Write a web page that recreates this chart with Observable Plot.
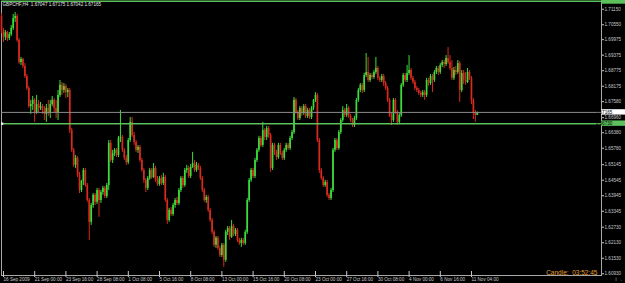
<!DOCTYPE html>
<html><head><meta charset="utf-8">
<script src="https://cdn.jsdelivr.net/npm/d3@7"></script>
<script src="https://cdn.jsdelivr.net/npm/@observablehq/plot@0.6"></script>
<style>html,body{margin:0;padding:0;background:#000;overflow:hidden}</style>
</head><body><div id="chart"></div>
<script>
const symbolTitle = "GBPCHF,H4  1.67047 1.67175 1.67042 1.67165";
const timerText = "Candle:  03:52:45";

const opens = [
1.7087,1.7033,1.7006,1.7025,1.7002,1.7017,1.7041,1.7079,1.7087,1.6994,
1.6909,1.6921,1.6894,1.6855,1.6809,1.6739,1.6747,1.6763,1.6716,1.6747,
1.6732,1.6739,1.6724,1.6709,1.6732,1.6712,1.6747,1.6763,1.6732,1.6716,
1.6782,1.6821,1.6801,1.6817,1.6793,1.6801,1.6647,1.6570,1.6512,1.6539,
1.6473,1.6415,1.6450,1.6492,1.6434,1.6376,1.6292,1.6357,1.6396,1.6369,
1.6415,1.6376,1.6407,1.6423,1.6392,1.6434,1.6597,1.6531,1.6558,1.6570,
1.6550,1.6616,1.6620,1.6570,1.6539,1.6523,1.6608,1.6678,1.6627,1.6600,
1.6570,1.6581,1.6531,1.6492,1.6454,1.6423,1.6461,1.6492,1.6465,1.6500,
1.6454,1.6438,1.6461,1.6442,1.6465,1.6376,1.6299,1.6338,1.6322,1.6357,
1.6376,1.6365,1.6415,1.6461,1.6434,1.6492,1.6500,1.6469,1.6504,1.6519,
1.6492,1.6512,1.6500,1.6461,1.6415,1.6376,1.6388,1.6338,1.6299,1.6253,
1.6203,1.6230,1.6191,1.6164,1.6203,1.6145,1.6253,1.6268,1.6234,1.6276,
1.6245,1.6261,1.6222,1.6210,1.6222,1.6210,1.6253,1.6376,1.6454,1.6492,
1.6469,1.6531,1.6570,1.6616,1.6589,1.6647,1.6620,1.6654,1.6627,1.6500,
1.6589,1.6562,1.6542,1.6589,1.6558,1.6539,1.6570,1.6589,1.6577,1.6616,
1.6639,1.6763,1.6716,1.6693,1.6732,1.6712,1.6739,1.6701,1.6724,1.6697,
1.6732,1.6763,1.6782,1.6608,1.6492,1.6461,1.6434,1.6446,1.6396,1.6384,
1.6415,1.6570,1.6608,1.6577,1.6639,1.6685,1.6724,1.6705,1.6732,1.6701,
1.6685,1.6666,1.6693,1.6763,1.6801,1.6821,1.6801,1.6859,1.6871,1.6840,
1.6859,1.6851,1.6871,1.6886,1.6848,1.6840,1.6855,1.6828,1.6809,1.6763,
1.6705,1.6685,1.6763,1.6716,1.6678,1.6705,1.6821,1.6859,1.6840,1.6867,
1.6878,1.6848,1.6832,1.6809,1.6801,1.6790,1.6782,1.6793,1.6782,1.6840,
1.6828,1.6855,1.6840,1.6871,1.6886,1.6871,1.6898,1.6909,1.6902,1.6925,
1.6909,1.6886,1.6848,1.6878,1.6871,1.6905,1.6801,1.6867,1.6840,1.6832,
1.6871,1.6848,1.6763,1.6716,1.67047
];
const highs = [
1.7099,1.7041,1.7033,1.7029,1.7025,1.7052,1.7095,1.7102,1.7095,1.7002,
1.6929,1.6925,1.6905,1.6863,1.6817,1.6763,1.6778,1.6770,1.6782,1.6763,
1.6755,1.6747,1.6739,1.6747,1.6763,1.6763,1.6778,1.6770,1.6763,1.6801,
1.6840,1.6832,1.6828,1.6824,1.6809,1.6809,1.6654,1.6577,1.6550,1.6546,
1.6485,1.6454,1.6500,1.6500,1.6442,1.6384,1.6365,1.6403,1.6403,1.6423,
1.6423,1.6415,1.6431,1.6431,1.6442,1.6608,1.6608,1.6570,1.6577,1.6577,
1.6624,1.6724,1.6627,1.6577,1.6550,1.6616,1.6697,1.6697,1.6639,1.6608,
1.6589,1.6589,1.6539,1.6500,1.6461,1.6469,1.6500,1.6500,1.6519,1.6508,
1.6469,1.6469,1.6473,1.6481,1.6473,1.6384,1.6346,1.6349,1.6365,1.6384,
1.6388,1.6423,1.6469,1.6469,1.6500,1.6512,1.6508,1.6515,1.6562,1.6531,
1.6523,1.6519,1.6508,1.6469,1.6423,1.6396,1.6396,1.6346,1.6307,1.6261,
1.6237,1.6237,1.6199,1.6210,1.6210,1.6261,1.6276,1.6276,1.6299,1.6284,
1.6268,1.6268,1.6230,1.6230,1.6230,1.6261,1.6384,1.6461,1.6500,1.6500,
1.6539,1.6577,1.6624,1.6624,1.6678,1.6654,1.6662,1.6662,1.6635,1.6597,
1.6597,1.6570,1.6597,1.6597,1.6566,1.6577,1.6597,1.6597,1.6624,1.6647,
1.6774,1.6770,1.6724,1.6739,1.6739,1.6747,1.6747,1.6732,1.6732,1.6739,
1.6766,1.6793,1.6790,1.6616,1.6500,1.6469,1.6454,1.6454,1.6403,1.6423,
1.6577,1.6616,1.6616,1.6647,1.6693,1.6739,1.6732,1.6747,1.6739,1.6709,
1.6693,1.6701,1.6770,1.6809,1.6828,1.6828,1.6867,1.6944,1.6929,1.6867,
1.6867,1.6878,1.6929,1.6894,1.6855,1.6863,1.6863,1.6836,1.6817,1.6770,
1.6712,1.6770,1.6770,1.6724,1.6712,1.6828,1.6867,1.6867,1.6898,1.6936,
1.6886,1.6855,1.6840,1.6817,1.6809,1.6797,1.6801,1.6801,1.6848,1.6848,
1.6863,1.6863,1.6878,1.6894,1.6894,1.6905,1.6917,1.6917,1.6936,1.6967,
1.6936,1.6917,1.6890,1.6894,1.6917,1.6913,1.6878,1.6878,1.6871,1.6886,
1.6878,1.6855,1.6770,1.6724,1.67175
];
const lows = [
1.7021,1.6987,1.6994,1.6990,1.6994,1.7010,1.7033,1.7064,1.6987,1.6902,
1.6898,1.6886,1.6848,1.6801,1.6732,1.6709,1.6724,1.6678,1.6709,1.6716,
1.6724,1.6709,1.6685,1.6678,1.6701,1.6693,1.6739,1.6716,1.6693,1.6685,
1.6774,1.6782,1.6790,1.6770,1.6774,1.6635,1.6562,1.6504,1.6500,1.6465,
1.6403,1.6407,1.6434,1.6427,1.6369,1.6222,1.6280,1.6346,1.6357,1.6361,
1.6311,1.6365,1.6396,1.6384,1.6384,1.6415,1.6523,1.6519,1.6546,1.6542,
1.6542,1.6600,1.6562,1.6531,1.6512,1.6515,1.6600,1.6620,1.6589,1.6562,
1.6558,1.6523,1.6485,1.6442,1.6407,1.6415,1.6454,1.6458,1.6461,1.6446,
1.6431,1.6431,1.6434,1.6434,1.6369,1.6284,1.6292,1.6315,1.6315,1.6346,
1.6357,1.6357,1.6407,1.6423,1.6427,1.6481,1.6461,1.6461,1.6500,1.6485,
1.6485,1.6492,1.6454,1.6407,1.6369,1.6365,1.6330,1.6292,1.6245,1.6195,
1.6191,1.6183,1.6156,1.6156,1.6118,1.6137,1.6241,1.6222,1.6230,1.6237,
1.6237,1.6214,1.6203,1.6195,1.6203,1.6203,1.6245,1.6369,1.6446,1.6461,
1.6461,1.6523,1.6562,1.6581,1.6581,1.6608,1.6608,1.6616,1.6485,1.6492,
1.6550,1.6531,1.6535,1.6550,1.6531,1.6531,1.6562,1.6570,1.6570,1.6608,
1.6631,1.6709,1.6685,1.6685,1.6701,1.6705,1.6693,1.6693,1.6689,1.6689,
1.6724,1.6755,1.6600,1.6481,1.6454,1.6427,1.6427,1.6388,1.6376,1.6376,
1.6407,1.6562,1.6570,1.6570,1.6631,1.6678,1.6697,1.6697,1.6693,1.6678,
1.6658,1.6658,1.6685,1.6755,1.6793,1.6790,1.6793,1.6851,1.6832,1.6832,
1.6844,1.6844,1.6863,1.6840,1.6832,1.6832,1.6817,1.6801,1.6755,1.6697,
1.6666,1.6678,1.6709,1.6666,1.6670,1.6697,1.6813,1.6832,1.6832,1.6859,
1.6840,1.6824,1.6801,1.6793,1.6782,1.6774,1.6774,1.6763,1.6774,1.6817,
1.6821,1.6793,1.6832,1.6863,1.6859,1.6863,1.6890,1.6886,1.6894,1.6902,
1.6878,1.6840,1.6840,1.6859,1.6863,1.6755,1.6793,1.6824,1.6821,1.6828,
1.6840,1.6747,1.6689,1.6678,1.67042
];
const closes = [
1.7033,1.7006,1.7025,1.7002,1.7017,1.7041,1.7079,1.7087,1.6994,1.6909,
1.6921,1.6894,1.6855,1.6809,1.6739,1.6747,1.6763,1.6716,1.6747,1.6732,
1.6739,1.6724,1.6709,1.6732,1.6712,1.6747,1.6763,1.6732,1.6716,1.6782,
1.6821,1.6801,1.6817,1.6793,1.6801,1.6647,1.6570,1.6512,1.6539,1.6473,
1.6415,1.6450,1.6492,1.6434,1.6376,1.6292,1.6357,1.6396,1.6369,1.6415,
1.6376,1.6407,1.6423,1.6392,1.6434,1.6597,1.6531,1.6558,1.6570,1.6550,
1.6616,1.6620,1.6570,1.6539,1.6523,1.6608,1.6678,1.6627,1.6600,1.6570,
1.6581,1.6531,1.6492,1.6454,1.6423,1.6461,1.6492,1.6465,1.6500,1.6454,
1.6438,1.6461,1.6442,1.6465,1.6376,1.6299,1.6338,1.6322,1.6357,1.6376,
1.6365,1.6415,1.6461,1.6434,1.6492,1.6500,1.6469,1.6504,1.6519,1.6492,
1.6512,1.6500,1.6461,1.6415,1.6376,1.6388,1.6338,1.6299,1.6253,1.6203,
1.6230,1.6191,1.6164,1.6203,1.6145,1.6253,1.6268,1.6234,1.6276,1.6245,
1.6261,1.6222,1.6210,1.6222,1.6210,1.6253,1.6376,1.6454,1.6492,1.6469,
1.6531,1.6570,1.6616,1.6589,1.6647,1.6620,1.6654,1.6627,1.6500,1.6589,
1.6562,1.6542,1.6589,1.6558,1.6539,1.6570,1.6589,1.6577,1.6616,1.6639,
1.6763,1.6716,1.6693,1.6732,1.6712,1.6739,1.6701,1.6724,1.6697,1.6732,
1.6763,1.6782,1.6608,1.6492,1.6461,1.6434,1.6446,1.6396,1.6384,1.6415,
1.6570,1.6608,1.6577,1.6639,1.6685,1.6724,1.6705,1.6732,1.6701,1.6685,
1.6666,1.6693,1.6763,1.6801,1.6821,1.6801,1.6859,1.6871,1.6840,1.6859,
1.6851,1.6871,1.6886,1.6848,1.6840,1.6855,1.6828,1.6809,1.6763,1.6705,
1.6685,1.6763,1.6716,1.6678,1.6705,1.6821,1.6859,1.6840,1.6867,1.6878,
1.6848,1.6832,1.6809,1.6801,1.6790,1.6782,1.6793,1.6782,1.6840,1.6828,
1.6855,1.6840,1.6871,1.6886,1.6871,1.6898,1.6909,1.6902,1.6925,1.6909,
1.6886,1.6848,1.6878,1.6871,1.6905,1.6801,1.6867,1.6840,1.6832,1.6871,
1.6848,1.6763,1.6716,1.67047,1.67165
];

const timeTickBars = [0,16,32,48,64,80,96,112,128,144,160,176,192,208,224,240];
const timeTickLabels = ["16 Sep 2009","21 Sep 00:00","23 Sep 16:00","28 Sep 08:00","1 Oct 08:00","5 Oct 16:00","8 Oct 08:00","13 Oct 00:00","15 Oct 16:00","20 Oct 08:00","23 Oct 00:00","27 Oct 16:00","30 Oct 08:00","4 Nov 00:00","6 Nov 16:00","11 Nov 04:00"];
const priceTicks = [1.71150,1.70550,1.69975,1.69375,1.68775,1.68175,1.67580,1.66960,1.66380,1.65780,1.65145,1.64545,1.63945,1.63345,1.62730,1.62130,1.61530,1.60930];
const bidPrice = 1.67165;
const levelPrice = 1.66730;
const topLevelPrice = 1.71460;

const upColor = "#3cdc3c";
const downColor = "#d82a1e";
const lineGreen = "#5cc05c";

const bars = closes.map((c, i) => ({i, open: opens[i], high: highs[i], low: lows[i], close: c}));
const candleColor = d => d.close >= d.open ? upColor : downColor;

const chart = Plot.plot({
  width: 625, height: 283,
  marginLeft: 1, marginRight: 24, marginTop: 1, marginBottom: 8,
  style: {background: "#000", color: "#c8c8c8", fontFamily: "'Liberation Sans', Arial, sans-serif", fontSize: "4.6px", overflow: "visible"},
  x: {type: "linear", domain: [0, 307.69]},
  y: {domain: [1.60864, 1.71449]},
  marks: [
    Plot.frame({stroke: "#a8a8a8", strokeWidth: 1}),
    Plot.ruleX(bars, {x: "i", y1: "low", y2: "high", stroke: candleColor, strokeWidth: 1}),
    Plot.ruleX(bars, {x: "i", y1: "open", y2: "close", stroke: candleColor, strokeWidth: 1.7}),
    Plot.ruleY([bidPrice], {stroke: "#8c8c8c", strokeWidth: 1}),
    Plot.ruleY([levelPrice], {stroke: lineGreen, strokeWidth: 1.5}),
    Plot.ruleY([topLevelPrice], {stroke: lineGreen, strokeWidth: 1.6}),
    Plot.dot([levelPrice], {x: 0.3, y: d => d, symbol: "square", r: 1.3, fill: "#ffffff", stroke: null}),
    Plot.axisY(priceTicks, {anchor: "right", tickSize: 2, tickPadding: 1, tickFormat: d => d.toFixed(5), color: "#c8c8c8", fontSize: 4.6}),
    Plot.axisX(timeTickBars, {anchor: "bottom", tickSize: 6, tickPadding: 0, dy: -4, dx: 2, textAnchor: "start", tickFormat: d => timeTickLabels[timeTickBars.indexOf(d)], color: "#c8c8c8", fontSize: 4.6}),
    Plot.text([symbolTitle], {frameAnchor: "top-left", dx: 1, dy: 1.6, lineAnchor: "top", textAnchor: "start", fill: "#e6e6e6", fontSize: 4.6}),
    Plot.text([timerText], {frameAnchor: "bottom-right", dx: -4, dy: -1, lineAnchor: "bottom", textAnchor: "end", fill: "#e8a030", fontSize: 6.5})
  ]
});

const ys = chart.scale("y");
const svg = d3.select(chart);
const right = 625 - 24;
const topY = ys.apply(topLevelPrice);
svg.append("rect").attr("x", right).attr("y", topY - 3).attr("width", 24).attr("height", 6).attr("fill", lineGreen);
[{v: bidPrice, fill: "#ffffff"}, {v: levelPrice, fill: lineGreen}].forEach(b => {
  const yy = ys.apply(b.v);
  svg.append("rect").attr("x", right).attr("y", yy - 2.7).attr("width", 24).attr("height", 5.4).attr("fill", b.fill);
  svg.append("text").attr("x", right + 3).attr("y", yy).attr("dy", "0.35em")
    .attr("fill", "#000").attr("font-size", 4.6).attr("font-family", "'Liberation Sans', Arial, sans-serif")
    .text(b.v.toFixed(5));
});
document.getElementById("chart").appendChild(chart);
</script>
</body></html>
